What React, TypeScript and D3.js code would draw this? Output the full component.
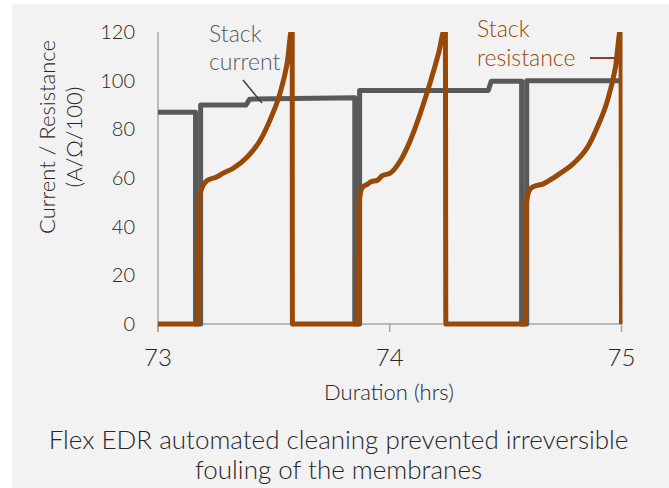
import React, { useEffect, useRef } from 'react';
import * as d3 from 'd3';

// stack current (A), step series
const currentTime = [73, 73.162, 73.162, 73.184, 73.184, 73.38, 73.395, 73.849, 73.849, 73.87, 73.87, 74.425, 74.438, 74.569, 74.569, 74.591, 74.591, 75];
const currentValue = [87, 87, 0, 0, 90, 90, 92.4, 93, 0, 0, 96, 96, 99.8, 99.8, 0, 0, 100, 100];

// stack resistance (Ω/100), three fouling cycles
const resistanceTime = [
  73, 73.173, 73.177, 73.186, 73.212, 73.24, 73.255, 73.281, 73.324, 73.384, 73.441, 73.484, 73.527, 73.557, 73.579, 73.58,
  73.864, 73.868, 73.881, 73.905, 73.92, 73.946, 73.968, 74.002, 74.045, 74.089, 74.132, 74.175, 74.21, 74.24, 74.242,
  74.585, 74.59, 74.607, 74.637, 74.66, 74.68, 74.737, 74.793, 74.853, 74.896, 74.94, 74.974, 74.998, 75
];
const resistanceValue = [
  0, 0, 50, 55, 59, 60, 60.5, 62, 64, 68.5, 75.5, 84, 95, 107, 122, 0,
  0, 50, 56, 57.5, 58.5, 59, 61, 62, 67, 75.5, 86.6, 99.4, 111, 122, 0,
  0, 50, 55.6, 57, 57.5, 58.5, 62, 66, 72.6, 81, 92, 105.6, 122, 0
];

const xTicks = [73, 74, 75];
const yTicks = [0, 20, 40, 60, 80, 100, 120];
const titleLines = ['Flex EDR automated cleaning prevented irreversible', 'fouling of the membranes'];
const yTitleLines = ['Current / Resistance', '(A/Ω/100)'];

const W = 669;
const H = 488;
const FONT = 'Lato, sans-serif';
const WEIGHT = 300;
const GRAY = '#595959';
const ORANGE = '#984807';

const App = () => {
  const ref = useRef<SVGSVGElement>(null);

  useEffect(() => {
    const svg = d3.select(ref.current);
    svg.selectAll('*').remove();

    // panel background
    svg.append('rect')
      .attr('x', 12).attr('y', 4)
      .attr('width', W - 12).attr('height', H - 4)
      .attr('fill', '#f2f2f2');

    const x = d3.scaleLinear().domain([73, 75]).range([158, 621.5]);
    const y = d3.scaleLinear().domain([0, 120]).range([324, 32]);

    // axes
    svg.append('line')
      .attr('x1', x(73)).attr('x2', x(73))
      .attr('y1', y(120)).attr('y2', y(0) + 8)
      .attr('stroke', '#a6a6a6').attr('stroke-width', 1.5);
    svg.append('line')
      .attr('x1', x(73)).attr('x2', x(75))
      .attr('y1', y(0)).attr('y2', y(0))
      .attr('stroke', '#a6a6a6').attr('stroke-width', 1.5);
    svg.selectAll('.xtick').data(xTicks).enter().append('line')
      .attr('class', 'xtick')
      .attr('x1', d => x(d)).attr('x2', d => x(d))
      .attr('y1', y(0)).attr('y2', y(0) + 8)
      .attr('stroke', '#a6a6a6').attr('stroke-width', 1.5);

    // tick labels
    svg.selectAll('.ylab').data(yTicks).enter().append('text')
      .attr('class', 'ylab')
      .attr('x', 135).attr('y', d => y(d) + 7)
      .attr('text-anchor', 'end')
      .attr('font-family', FONT).attr('font-weight', WEIGHT).attr('font-size', 20).attr('fill', '#262626')
      .text(d => d);
    svg.selectAll('.xlab').data(xTicks).enter().append('text')
      .attr('class', 'xlab')
      .attr('x', d => x(d)).attr('y', 366)
      .attr('text-anchor', 'middle')
      .attr('font-family', FONT).attr('font-weight', WEIGHT).attr('font-size', 24).attr('fill', '#262626')
      .text(d => d);

    // axis titles
    svg.append('text')
      .attr('x', 389).attr('y', 400)
      .attr('text-anchor', 'middle')
      .attr('font-family', FONT).attr('font-weight', WEIGHT).attr('font-size', 22).attr('fill', '#262626')
      .text('Duration (hrs)');
    yTitleLines.forEach((t, i) => {
      svg.append('text')
        .attr('transform', `translate(${55 + i * 27}, 137) rotate(-90)`)
        .attr('text-anchor', 'middle')
        .attr('font-family', FONT).attr('font-weight', WEIGHT).attr('font-size', 22).attr('fill', '#262626')
        .text(t);
    });

    // caption
    titleLines.forEach((t, i) => {
      svg.append('text')
        .attr('x', 338.5).attr('y', 449 + i * 30)
        .attr('text-anchor', 'middle')
        .attr('font-family', FONT).attr('font-weight', WEIGHT).attr('font-size', 26).attr('fill', '#262626')
        .text(t);
    });

    // clip to plot area
    svg.append('clipPath').attr('id', 'plot-clip')
      .append('rect')
      .attr('x', x(73) - 4).attr('y', y(120))
      .attr('width', x(75) - x(73) + 5).attr('height', y(0) - y(120) + 4);

    const line = d3.line<[number, number]>()
      .x(d => x(d[0]))
      .y(d => y(d[1]));
    const smooth = d3.line<[number, number]>()
      .x(d => x(d[0]))
      .y(d => y(d[1]))
      .curve(d3.curveMonotoneX);

    const g = svg.append('g').attr('clip-path', 'url(#plot-clip)');
    g.append('path')
      .attr('d', line(currentTime.map((t, i) => [t, currentValue[i]])))
      .attr('fill', 'none').attr('stroke', GRAY).attr('stroke-width', 5)
      .attr('stroke-linejoin', 'round');
    g.append('path')
      .attr('d', smooth(resistanceTime.map((t, i) => [t, resistanceValue[i]])))
      .attr('fill', 'none').attr('stroke', ORANGE).attr('stroke-width', 5)
      .attr('stroke-linejoin', 'round');

    // annotations
    ['Stack', 'current'].forEach((t, i) => {
      svg.append('text')
        .attr('x', 209).attr('y', 42 + i * 28)
        .attr('font-family', FONT).attr('font-weight', WEIGHT).attr('font-size', 23).attr('fill', GRAY)
        .text(t);
    });
    svg.append('line')
      .attr('x1', 243).attr('y1', 80).attr('x2', 262).attr('y2', 103)
      .attr('stroke', '#404040').attr('stroke-width', 1.5);

    ['Stack', 'resistance'].forEach((t, i) => {
      svg.append('text')
        .attr('x', 477).attr('y', 37 + i * 29)
        .attr('font-family', FONT).attr('font-weight', WEIGHT).attr('font-size', 23).attr('fill', ORANGE)
        .text(t);
    });
    svg.append('line')
      .attr('x1', 590).attr('y1', 58).attr('x2', 617).attr('y2', 58)
      .attr('stroke', '#953735').attr('stroke-width', 2);
  }, []);

  return (
    <div style={{ position: 'absolute', left: 0, top: 0 }}>
      <svg ref={ref} width={W} height={H} style={{ display: 'block' }} />
    </div>
  );
};

export default App;
